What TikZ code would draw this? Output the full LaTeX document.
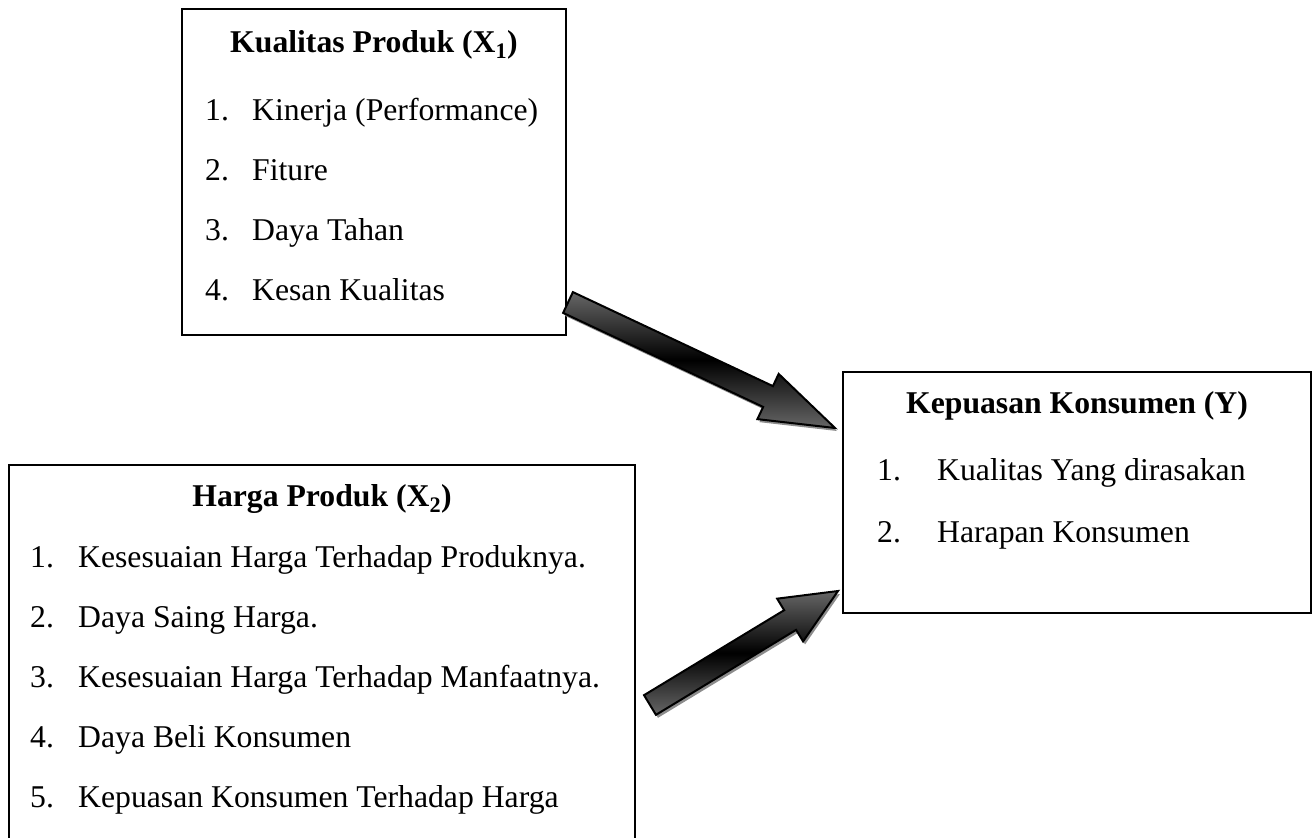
\documentclass[tikz,border=0pt]{standalone}
\usepackage{fontspec}
\setmainfont{Liberation Serif}
\usetikzlibrary{calc}
\newcommand\barrowpath[4]{%
 ($(#1)!11.5pt!90:(#2)+#4$) -- ($(#3)!11.5pt!90:(#2)+#4$) -- ($(#3)!25pt!90:(#2)+#4$) -- ($(#2)+#4$) -- ($(#3)!25pt!-90:(#2)+#4$) -- ($(#3)!11.5pt!-90:(#2)+#4$) -- ($(#1)!11.5pt!-90:(#2)+#4$) -- cycle}
\tikzset{
  box/.style={draw=black, line width=2.2pt, anchor=north west, inner sep=0pt, outer sep=0pt},
  txt/.style={anchor=base west, inner sep=0pt, font=\fontsize{31.7}{38}\selectfont},
  ttl/.style={anchor=base, inner sep=0pt, font=\fontsize{31.7}{38}\selectfont\bfseries},
  bshadow/.style={fill=black!45, draw=none},
  barrow/.style={draw=black, line width=2pt, line join=miter, top color=black!60, bottom color=black!60, middle color=black}
}
\begin{document}
\begin{tikzpicture}[x=1pt, y=-1pt]
\clip (0,0) rectangle (1312,838);
\fill[white] (0,0) rectangle (1312,838);
% boxes
\node[box, minimum width=384pt, minimum height=326pt] (k1) at (182,9) {};
\node[box, minimum width=626pt, minimum height=420pt] (k2) at (9,465) {};
\node[box, minimum width=468pt, minimum height=241pt] (ky) at (843,372) {};
% box 1 texts
\node[ttl] (k1t) at (374,52) {Kualitas Produk (X\textsubscript{1})};
\node[txt] (k1n1) at (205,120) {1.};
\node[txt] (k1i1) at (252,120) {Kinerja (Performance)};
\node[txt] (k1n2) at (205,180) {2.};
\node[txt] (k1i2) at (252,180) {Fiture};
\node[txt] (k1n3) at (205,240) {3.};
\node[txt] (k1i3) at (252,240) {Daya Tahan};
\node[txt] (k1n4) at (205,300) {4.};
\node[txt] (k1i4) at (252,300) {Kesan Kualitas};
% box 2 texts
\node[ttl] (k2t) at (322,506) {Harga Produk (X\textsubscript{2})};
\node[txt] (k2n1) at (30,567) {1.};
\node[txt] (k2i1) at (78,567) {Kesesuaian Harga Terhadap Produknya.};
\node[txt] (k2n2) at (30,627) {2.};
\node[txt] (k2i2) at (78,627) {Daya Saing Harga.};
\node[txt] (k2n3) at (30,687) {3.};
\node[txt] (k2i3) at (78,687) {Kesesuaian Harga Terhadap Manfaatnya.};
\node[txt] (k2n4) at (30,747) {4.};
\node[txt] (k2i4) at (78,747) {Daya Beli Konsumen};
\node[txt] (k2n5) at (30,807) {5.};
\node[txt] (k2i5) at (78,807) {Kepuasan Konsumen Terhadap Harga};
% box Y texts
\node[ttl] (kyt) at (1077,413) {Kepuasan Konsumen (Y)};
\node[txt] (kyn1) at (877,480) {1.};
\node[txt] (kyi1) at (937,480) {Kualitas Yang dirasakan};
\node[txt] (kyn2) at (877,542) {2.};
\node[txt] (kyi2) at (937,542) {Harapan Konsumen};
% arrows
\coordinate (s1) at (568,302.5);
\coordinate (t1) at (835,428);
\coordinate (h1) at ($(t1)!74pt!(s1)$);
\coordinate (s2) at (650,705);
\coordinate (t2) at (838,591);
\coordinate (h2) at ($(t2)!56pt!(s2)$);
\fill[bshadow] \barrowpath{s1}{t1}{h1}{(2,3)};
\draw[barrow] \barrowpath{s1}{t1}{h1}{(0,0)};
\fill[bshadow] \barrowpath{s2}{t2}{h2}{(2,3)};
\draw[barrow] \barrowpath{s2}{t2}{h2}{(0,0)};
\end{tikzpicture}
\end{document}
